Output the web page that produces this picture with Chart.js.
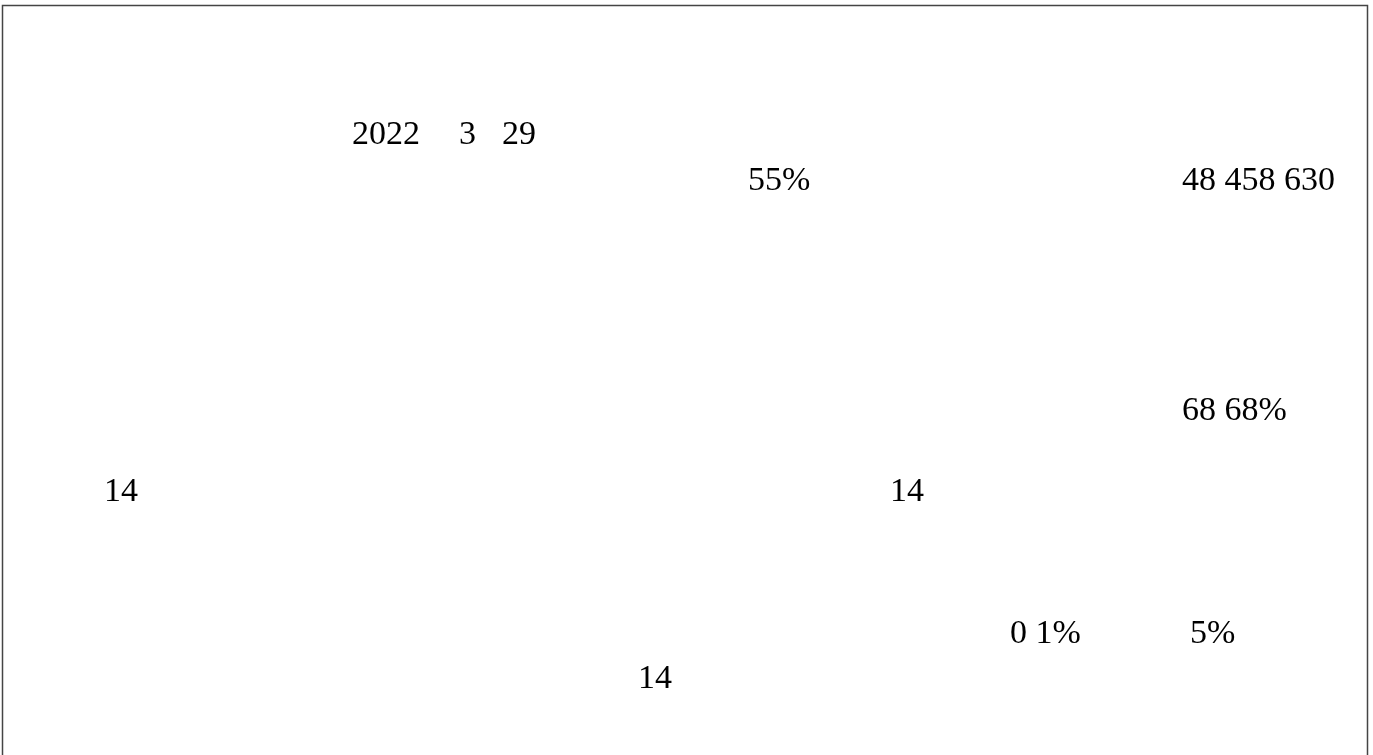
<!DOCTYPE html>
<html>
<head>
<meta charset="utf-8">
<title>2022 3 29</title>
<script src="https://cdn.jsdelivr.net/npm/chart.js@4/dist/chart.umd.min.js"></script>
<style>
  html, body { margin: 0; padding: 0; background: #fff; overflow: hidden; }
  #wrap { position: relative; width: 1373px; height: 755px; }
</style>
</head>
<body>
<div id="wrap"><canvas id="board"></canvas></div>
<script>
// the only glyphs that show in the reference (the CJK text around them is blank)
const dateParts = ['2022', '3', '29'];
const figures = ['55%', '48 458 630', '68 68%', '0 1%', '5%'];
const dayCounts = ['14', '14', '14'];

// where each piece sits on the page (left edge, baseline), in page pixels
const datePlaces = [[352, 144], [459, 144], [502, 144]];
const figurePlaces = [[748, 190], [1182, 190], [1182, 420], [1010, 643], [1190, 643]];
const dayPlaces = [[104, 501], [890, 501], [638, 688]];

const textPlugin = {
    id: 'pageText',
    afterDraw(chart) {
        const { ctx, scales: { x, y } } = chart;
        ctx.save();

        // frame of the page, open at the bottom
        ctx.strokeStyle = '#444';
        ctx.lineWidth = 1.5;
        ctx.beginPath();
        ctx.moveTo(x.getPixelForValue(2.5), y.getPixelForValue(760));
        ctx.lineTo(x.getPixelForValue(2.5), y.getPixelForValue(5.5));
        ctx.lineTo(x.getPixelForValue(1367.5), y.getPixelForValue(5.5));
        ctx.lineTo(x.getPixelForValue(1367.5), y.getPixelForValue(760));
        ctx.stroke();

        ctx.fillStyle = '#000';
        ctx.textBaseline = 'alphabetic';
        ctx.textAlign = 'left';
        ctx.font = '34px "Liberation Serif", "Times New Roman", serif';
        const put = (list, places) => list.forEach((t, i) => {
            ctx.fillText(t, x.getPixelForValue(places[i][0]), y.getPixelForValue(places[i][1]));
        });
        put(dateParts, datePlaces);
        put(figures, figurePlaces);
        put(dayCounts, dayPlaces);
        ctx.restore();
    }
};

new Chart(document.getElementById('board'), {
    type: 'scatter',
    data: { datasets: [{ data: [], pointRadius: 0 }] },
    options: {
        responsive: true,
        maintainAspectRatio: false,
        animation: false,
        layout: { padding: 0 },
        plugins: { legend: { display: false }, tooltip: { enabled: false } },
        scales: {
            x: { type: 'linear', display: false, min: 0, max: 1373 },
            y: { type: 'linear', display: false, min: 0, max: 755, reverse: true }
        }
    },
    plugins: [textPlugin]
});
</script>
</body>
</html>
